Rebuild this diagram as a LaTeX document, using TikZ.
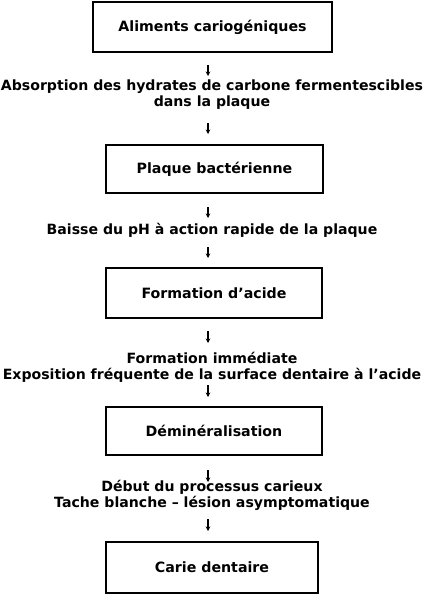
\documentclass[tikz,border=0pt]{standalone}
\usepackage{fontspec}
\setmainfont{DejaVu Sans}
\usetikzlibrary{arrows.meta}
\begin{document}
\begin{tikzpicture}[x=1pt,y=-1pt,
  box/.style={draw, line width=1.8pt, minimum height=48pt, inner sep=0pt, font=\bfseries\fontsize{14.2}{16}\selectfont},
  lbl/.style={align=center, inner sep=0pt, font=\bfseries\fontsize{14.1}{16}\selectfont},
  arr/.style={-{Stealth[length=4.5pt,width=4.5pt]}, line width=1.3pt}]
\useasboundingbox (0,0) rectangle (428,596);
\node[box, minimum width=239pt, minimum height=50pt] (b1) at (212.5,27) {Aliments cariogéniques};
\node[lbl] (t1) at (212,95) {Absorption des hydrates de carbone fermentescibles\\dans la plaque};
\node[box, minimum width=217pt] (b2) at (214.5,169) {Plaque bactérienne};
\node[lbl] (t2) at (212,230) {Baisse du pH à action rapide de la plaque};
\node[box, minimum width=216pt, minimum height=50pt] (b3) at (214,293) {Formation d'acide};
\node[lbl] (t3) at (212,367.5) {Formation immédiate\\Exposition fréquente de la surface dentaire à l'acide};
\node[box, minimum width=216pt] (b4) at (214,431) {Déminéralisation};
\node[lbl] (t4) at (212,495.5) {Début du processus carieux\\Tache blanche – lésion asymptomatique};
\node[box, minimum width=212pt, minimum height=51pt] (b5) at (212,567.5) {Carie dentaire};
\coordinate (a1s) at (208,65); \coordinate (a1e) at (208,76);
\coordinate (a2s) at (208,123); \coordinate (a2e) at (208,134);
\coordinate (a3s) at (208,207); \coordinate (a3e) at (208,218);
\coordinate (a4s) at (208,247); \coordinate (a4e) at (208,258);
\coordinate (a5s) at (208,331); \coordinate (a5e) at (208,343);
\coordinate (a6s) at (208,385); \coordinate (a6e) at (208,397);
\coordinate (a7s) at (208,470); \coordinate (a7e) at (208,482);
\coordinate (a8s) at (208,519); \coordinate (a8e) at (208,531);
\foreach \i in {1,...,8} \draw[arr] (a\i s) -- (a\i e);
\end{tikzpicture}
\end{document}
